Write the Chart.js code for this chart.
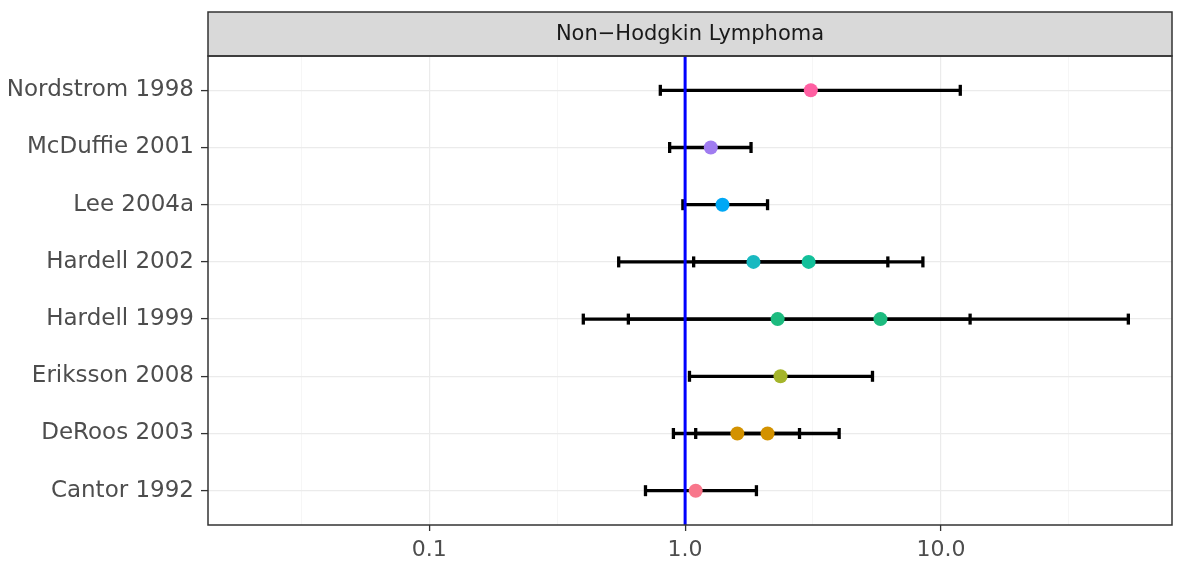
<!DOCTYPE html>
<html>
<head>
<meta charset="utf-8">
<script src="https://cdn.jsdelivr.net/npm/chart.js@4.4.1/dist/chart.umd.min.js"></script>
<style>
  html, body { margin: 0; padding: 0; background: #fff; }
  #wrap { width: 1182px; height: 564px; position: relative; }
</style>
</head>
<body>
<div id="wrap"><canvas id="forest"></canvas></div>
<script>
// studies, bottom row first
const studies = ['Cantor 1992', 'DeRoos 2003', 'Eriksson 2008', 'Hardell 1999',
                 'Hardell 2002', 'Lee 2004a', 'McDuffie 2001', 'Nordstrom 1998'];

// one entry per estimate (some studies report two)
const estStudy = [0, 1, 1, 2, 3, 3, 4, 4, 5, 6, 7];
const estOR    = [1.1, 1.6, 2.1, 2.36, 2.3, 5.8, 1.85, 3.04, 1.4, 1.26, 3.1];
const estLow   = [0.7, 0.9, 1.1, 1.04, 0.4, 0.6, 0.55, 1.08, 0.98, 0.87, 0.8];
const estHigh  = [1.9, 2.8, 4.0, 5.4, 13, 54, 6.2, 8.5, 2.1, 1.81, 11.9];
const estColor = ['#F8768B', '#D39200', '#D39200', '#A5B52B', '#1DBB7F', '#1DBB7F',
                  '#19B9C0', '#13C09A', '#00A8F5', '#A07CF0', '#FF5FA2'];

const xTicks = [0.1, 1, 10];
const xTickLabels = ['0.1', '1.0', '10.0'];
const xMinor = [0.0316, 0.316, 3.16, 31.6];

const panelTitle = 'Non\u2212Hodgkin Lymphoma';
const FONT = 'DejaVu Sans';

const datasets = [];

// points on top
datasets.push({
  data: estOR.map((v, i) => ({ x: v, y: estStudy[i] + 1 })),
  pointBackgroundColor: estColor,
  pointBorderWidth: 0,
  pointRadius: 7,
  showLine: false,
  order: 0
});

// reference line at OR = 1
datasets.push({
  data: [{ x: 1, y: 0.4 }, { x: 1, y: studies.length + 0.6 }],
  showLine: true,
  borderColor: '#0000FF',
  borderWidth: 3,
  pointRadius: 0,
  order: 1
});

// confidence intervals
estOR.forEach((v, i) => {
  const y = estStudy[i] + 1;
  datasets.push({
    data: [{ x: estLow[i], y: y }, { x: estHigh[i], y: y }],
    showLine: true,
    borderColor: '#000',
    borderWidth: 3.3,
    pointStyle: 'line',
    rotation: 90,
    pointRadius: 5.5,
    pointBorderColor: '#000',
    pointBorderWidth: 3.3,
    order: 2
  });
});

const isMajor = v => xTicks.some(t => Math.abs(t - v) < 1e-9);

const frame = {
  id: 'frame',
  afterDraw(chart) {
    const { ctx, chartArea: a } = chart;
    ctx.save();
    // strip
    const stripTop = 12;
    ctx.fillStyle = '#D9D9D9';
    ctx.fillRect(a.left, stripTop, a.right - a.left, a.top - stripTop);
    ctx.strokeStyle = '#333333';
    ctx.lineWidth = 1.5;
    ctx.strokeRect(a.left, stripTop, a.right - a.left, a.top - stripTop);
    ctx.fillStyle = '#1A1A1A';
    ctx.font = '21px "' + FONT + '"';
    ctx.textAlign = 'center';
    ctx.textBaseline = 'middle';
    ctx.fillText(panelTitle, (a.left + a.right) / 2, (stripTop + a.top) / 2 + 1);
    // panel border
    ctx.strokeRect(a.left, a.top, a.right - a.left, a.bottom - a.top);
    ctx.restore();
  }
};

new Chart(document.getElementById('forest'), {
  type: 'scatter',
  data: { datasets: datasets },
  options: {
    responsive: true,
    maintainAspectRatio: false,
    animation: false,
    layout: { padding: { top: 56, right: 10, bottom: 0, left: 0 } },
    plugins: {
      legend: { display: false },
      tooltip: { enabled: false }
    },
    scales: {
      x: {
        type: 'logarithmic',
        min: 0.01365,
        max: 80,
        afterBuildTicks: s => {
          s.ticks = xMinor.concat(xTicks).sort((a, b) => a - b).map(v => ({ value: v }));
        },
        afterFit: s => { s.height = 39; },
        ticks: {
          autoSkip: false,
          maxRotation: 0,
          padding: 6,
          color: '#4D4D4D',
          font: { family: FONT, size: 22 },
          callback: v => {
            const k = xTicks.findIndex(t => Math.abs(t - v) < 1e-9);
            return k >= 0 ? xTickLabels[k] : '';
          }
        },
        grid: {
          color: c => isMajor(c.tick.value) ? '#EBEBEB' : '#F4F4F4',
          lineWidth: c => isMajor(c.tick.value) ? 1.2 : 0.8,
          tickColor: c => isMajor(c.tick.value) ? '#333333' : 'rgba(0,0,0,0)',
          tickLength: 6,
          tickWidth: 1.3
        },
        border: { display: false }
      },
      y: {
        type: 'linear',
        min: 0.4,
        max: studies.length + 0.6,
        afterBuildTicks: s => {
          s.ticks = studies.map((n, i) => ({ value: i + 1 }));
        },
        afterFit: s => { s.width = 208; },
        ticks: {
          autoSkip: false,
          padding: 7,
          color: '#4D4D4D',
          font: { family: FONT, size: 23 },
          callback: v => studies[Math.round(v) - 1]
        },
        grid: {
          color: '#EBEBEB',
          lineWidth: 1.2,
          tickColor: '#333333',
          tickLength: 7,
          tickWidth: 1.3
        },
        border: { display: false }
      }
    }
  },
  plugins: [frame]
});
</script>
</body>
</html>
